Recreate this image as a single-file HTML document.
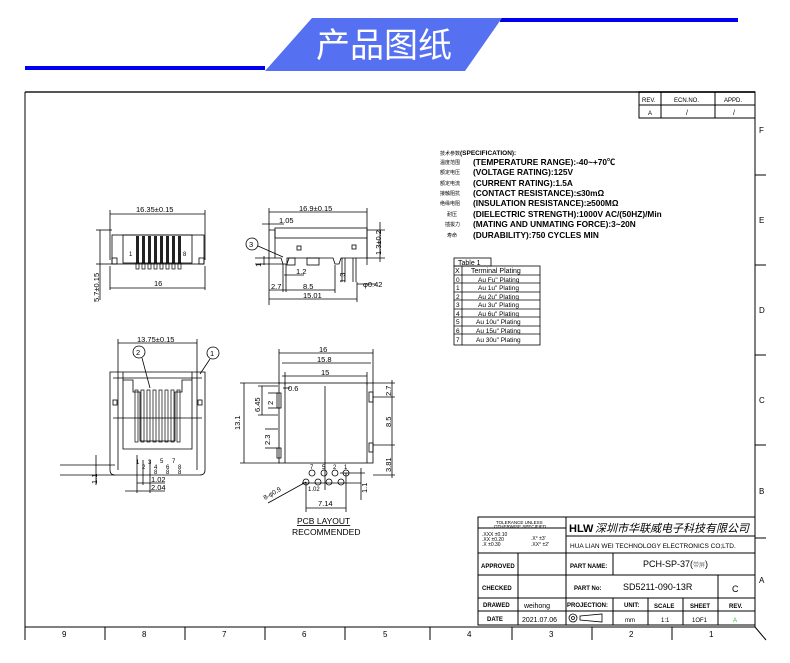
<!DOCTYPE html>
<html><head><meta charset="utf-8">
<style>
html,body{margin:0;padding:0;background:#fff;}
svg{display:block;}
text{font-family:"Liberation Sans","Noto Sans CJK SC",sans-serif;fill:#000;}
</style></head><body>
<svg width="790" height="663" viewBox="0 0 790 663" xmlns="http://www.w3.org/2000/svg">
<rect x="25" y="66" width="240" height="4" fill="#0000ee"/>
<rect x="500" y="18" width="238" height="4" fill="#0000ee"/>
<polygon points="312,18 502,18 465,71 265,71" fill="#5570f0"/>
<text x="316" y="57" font-size="34" fill="#fff" style="fill:#fff" font-family="Noto Sans CJK SC,sans-serif">产品图纸</text>

<g stroke="#000" fill="none" stroke-width="1">
<line x1="25" y1="92" x2="755" y2="92" stroke-width="2" stroke="#555"/>
<line x1="25" y1="92" x2="25" y2="640"/>
<line x1="755" y1="92" x2="755" y2="627"/>
<line x1="25" y1="627" x2="755" y2="627"/>
<line x1="755" y1="627" x2="766" y2="640"/>
<line x1="105" y1="627" x2="105" y2="640"/><line x1="185" y1="627" x2="185" y2="640"/>
<line x1="265" y1="627" x2="265" y2="640"/><line x1="345" y1="627" x2="345" y2="640"/>
<line x1="430" y1="627" x2="430" y2="640"/><line x1="512" y1="627" x2="512" y2="640"/>
<line x1="592" y1="627" x2="592" y2="640"/><line x1="672" y1="627" x2="672" y2="640"/>
<line x1="755" y1="175" x2="766" y2="175"/><line x1="755" y1="265" x2="766" y2="265"/>
<line x1="755" y1="355" x2="766" y2="355"/><line x1="755" y1="445" x2="766" y2="445"/>
<line x1="755" y1="538" x2="766" y2="538"/>
<rect x="639" y="92" width="116" height="26"/>
<line x1="639" y1="105" x2="755" y2="105"/>
<line x1="661" y1="92" x2="661" y2="118"/><line x1="715" y1="92" x2="715" y2="118"/>
<rect x="478" y="517" width="277" height="108"/>
<line x1="566" y1="517" x2="566" y2="625"/>
<line x1="478" y1="553" x2="755" y2="553"/>
<line x1="566" y1="536" x2="755" y2="536"/>
<line x1="478" y1="575" x2="755" y2="575"/>
<line x1="478" y1="598" x2="755" y2="598"/>
<line x1="478" y1="611" x2="755" y2="611"/>
<line x1="518" y1="553" x2="518" y2="625"/>
<line x1="613" y1="553" x2="613" y2="575"/>
<line x1="613" y1="598" x2="613" y2="625"/>
<line x1="648" y1="598" x2="648" y2="625"/><line x1="683" y1="598" x2="683" y2="625"/>
<line x1="718" y1="575" x2="718" y2="625"/>
<line x1="478" y1="528" x2="566" y2="528"/>
</g>
<g font-size="7">
<text x="642" y="102" font-size="6">REV.</text><text x="674" y="102" font-size="6">ECN.NO.</text><text x="724" y="102" font-size="6">APPD.</text>
<text x="648" y="115" font-size="6">A</text><text x="686" y="115">/</text><text x="733" y="115">/</text>
<text x="759" y="133" font-size="8">F</text><text x="759" y="223" font-size="8">E</text><text x="759" y="313" font-size="8">D</text>
<text x="759" y="403" font-size="8">C</text><text x="759" y="494" font-size="8">B</text><text x="759" y="583" font-size="8">A</text>
<text x="62" y="637" font-size="8">9</text><text x="142" y="637" font-size="8">8</text><text x="222" y="637" font-size="8">7</text>
<text x="302" y="637" font-size="8">6</text><text x="383" y="637" font-size="8">5</text><text x="467" y="637" font-size="8">4</text>
<text x="549" y="637" font-size="8">3</text><text x="629" y="637" font-size="8">2</text><text x="709" y="637" font-size="8">1</text>
<text x="496" y="524" font-size="4.5">TOLERANCE UNLESS</text><text x="494" y="528" font-size="4.5">OTHERWISE SPECIFIED</text>
<text x="482" y="536" font-size="5">.XXX ±0.10</text><text x="482" y="541" font-size="5">.XX  ±0.20</text><text x="482" y="546" font-size="5">.X   ±0.30</text>
<text x="531" y="540" font-size="5">.X°  ±3'</text><text x="531" y="546" font-size="5">.XX° ±2'</text>
<text x="569" y="532" font-size="11" font-weight="bold" fill="#223">HLW</text>
<text x="595" y="532" font-size="11" font-family="Noto Serif CJK SC,serif" style="font-style:italic">深圳市华联威电子科技有限公司</text>
<text x="570" y="548" font-size="6.5">HUA LIAN WEI TECHNOLOGY ELECTRONICS CO;LTD.</text>
<text x="481" y="568" font-size="6" font-weight="bold">APPROVED</text>
<text x="570" y="568" font-size="6" font-weight="bold">PART NAME:</text>
<text x="643" y="567" font-size="9">PCH-SP-37(<tspan font-size="6" fill="#777">带屏</tspan>)</text>
<text x="482" y="590" font-size="6" font-weight="bold">CHECKED</text>
<text x="574" y="590" font-size="6" font-weight="bold">PART No:</text>
<text x="623" y="590" font-size="9">SD5211-090-13R</text>
<text x="732" y="592" font-size="9">C</text>
<text x="483" y="607" font-size="6" font-weight="bold">DRAWED</text>
<text x="524" y="608" font-size="7">weihong</text>
<text x="567" y="607" font-size="6" font-weight="bold">PROJECTION:</text>
<text x="624" y="607" font-size="6" font-weight="bold">UNIT:</text>
<text x="654" y="608" font-size="6" font-weight="bold">SCALE</text>
<text x="690" y="608" font-size="6" font-weight="bold">SHEET</text>
<text x="729" y="608" font-size="6" font-weight="bold">REV.</text>
<text x="487" y="621" font-size="6" font-weight="bold">DATE</text>
<text x="522" y="622" font-size="7">2021.07.06</text>
<text x="625" y="622" font-size="6">mm</text><text x="661" y="622" font-size="6">1:1</text><text x="692" y="622" font-size="6">1OF1</text>
<text x="733" y="622" font-size="6" style="fill:#2c2">A</text>
</g>
<g stroke="#000" fill="none" stroke-width="0.8">
<circle cx="573" cy="618" r="4"/><circle cx="573" cy="618" r="1.5"/><polygon points="580,616 602,614 602,622 580,620"/>
</g>

<g font-size="8.3" font-weight="bold">
<text x="440" y="155" font-size="6.5"><tspan font-size="5" font-weight="normal">技术参数</tspan>(SPECIFICATION):</text>
<g font-size="5" font-weight="normal"><text x="440" y="164">温度范围</text><text x="440" y="174">额定电压</text><text x="440" y="185">额定电流</text><text x="440" y="195">接触阻抗</text><text x="440" y="205">绝缘电阻</text><text x="447" y="216">耐压</text><text x="445" y="226">插拔力</text><text x="447" y="237">寿命</text></g>
<text x="473" y="165">(TEMPERATURE RANGE):-40~+70℃</text>
<text x="473" y="175">(VOLTAGE RATING):125V</text>
<text x="473" y="186">(CURRENT RATING):1.5A</text>
<text x="473" y="196">(CONTACT RESISTANCE):≤30mΩ</text>
<text x="473" y="206">(INSULATION RESISTANCE):≥500MΩ</text>
<text x="473" y="217">(DIELECTRIC STRENGTH):1000V AC/(50HZ)/Min</text>
<text x="473" y="227">(MATING AND UNMATING FORCE):3~20N</text>
<text x="473" y="238">(DURABILITY):750 CYCLES MIN</text>
</g>
<g stroke="#000" fill="none" stroke-width="0.8">
<rect x="454" y="258" width="37" height="8"/>
<rect x="454" y="266" width="86" height="79"/>
<line x1="462" y1="266" x2="462" y2="345"/>
<line x1="454" y1="275" x2="540" y2="275"/><line x1="454" y1="283" x2="540" y2="283"/>
<line x1="454" y1="292" x2="540" y2="292"/><line x1="454" y1="300" x2="540" y2="300"/>
<line x1="454" y1="309" x2="540" y2="309"/><line x1="454" y1="317" x2="540" y2="317"/>
<line x1="454" y1="326" x2="540" y2="326"/><line x1="454" y1="334" x2="540" y2="334"/>
</g>
<g font-size="7">
<text x="458" y="265">Table 1</text>
<text x="455" y="273">X</text><text x="471" y="273">Terminal Plating</text>
<g font-size="6.5"><text x="456" y="282">0</text><text x="456" y="290">1</text><text x="456" y="299">2</text><text x="456" y="307">3</text><text x="456" y="316">4</text><text x="456" y="324">5</text><text x="456" y="333">6</text><text x="456" y="342">7</text>
<text x="478" y="282">Au Fu" Plating</text><text x="478" y="290">Au 1u" Plating</text><text x="478" y="299">Au 2u" Plating</text><text x="478" y="307">Au 3u" Plating</text><text x="478" y="316">Au 6u" Plating</text><text x="476" y="324">Au 10u" Plating</text><text x="476" y="333">Au 15u" Plating</text><text x="476" y="342">Au 30u" Plating</text></g>
</g>

<g stroke="#000" fill="none" stroke-width="0.8">
<line x1="110" y1="214" x2="205" y2="214"/><line x1="110" y1="210" x2="110" y2="260"/><line x1="205" y1="210" x2="205" y2="260"/>
<rect x="112" y="235" width="92" height="29"/>
<rect x="123" y="235" width="69" height="28"/>
<rect x="112" y="258" width="5" height="6"/><rect x="199" y="258" width="5" height="6"/>
<line x1="110" y1="288" x2="205" y2="288"/><line x1="110" y1="266" x2="110" y2="290"/><line x1="205" y1="266" x2="205" y2="290"/>
<line x1="100" y1="230" x2="100" y2="300"/><line x1="96" y1="230" x2="112" y2="230"/><line x1="96" y1="264" x2="112" y2="264"/>
</g>
<g fill="#222">
<rect x="136" y="236" width="3" height="27"/><rect x="142" y="236" width="3" height="27"/><rect x="148" y="236" width="3" height="27"/><rect x="154" y="236" width="3" height="27"/>
<rect x="160" y="236" width="3" height="27"/><rect x="166" y="236" width="3" height="27"/><rect x="172" y="236" width="3" height="27"/><rect x="178" y="236" width="3" height="27"/>
</g>
<g stroke="#000" fill="none" stroke-width="0.7">
<rect x="136" y="263" width="3" height="6"/><rect x="142" y="263" width="3" height="6"/><rect x="148" y="263" width="3" height="6"/><rect x="154" y="263" width="3" height="6"/>
<rect x="160" y="263" width="3" height="6"/><rect x="166" y="263" width="3" height="6"/><rect x="172" y="263" width="3" height="6"/><rect x="178" y="263" width="3" height="6"/>
</g>
<g font-size="7.5">
<text x="136" y="212">16.35±0.15</text><text x="129" y="256" font-size="6">1</text><text x="183" y="256" font-size="6">8</text>
<text x="154" y="286">16</text>
<text x="99" y="302" transform="rotate(-90 99 302)">5.7±0.15</text>
</g>

<g stroke="#000" fill="none" stroke-width="0.8">
<line x1="269" y1="212" x2="367" y2="212"/><line x1="269" y1="208" x2="269" y2="305"/><line x1="367" y1="208" x2="367" y2="265"/>
<line x1="262" y1="224" x2="284" y2="224"/>
<rect x="275" y="228" width="92" height="10"/>
<path d="M269 230 L275 230 L275 258 L281 258 L283 264 L287 264 L289 258 L333 258 L335 264 L339 264 L341 258 L367 258 L367 238"/>
<rect x="297" y="246" width="4" height="4"/><rect x="352" y="245" width="4" height="4"/>
<rect x="287" y="258" width="8" height="7"/><rect x="307" y="258" width="12" height="7"/>
<line x1="342" y1="258" x2="342" y2="282"/><line x1="345" y1="258" x2="345" y2="282"/><line x1="353" y1="258" x2="353" y2="282"/><line x1="356" y1="258" x2="356" y2="282"/>
<line x1="283" y1="264" x2="283" y2="292"/><line x1="286" y1="264" x2="286" y2="292"/>
<line x1="284" y1="275" x2="304" y2="275"/>
<line x1="269" y1="290" x2="335" y2="290"/><line x1="335" y1="265" x2="335" y2="293"/>
<line x1="269" y1="299" x2="357" y2="299"/><line x1="357" y1="282" x2="357" y2="302"/>
<line x1="264" y1="256" x2="264" y2="265"/><line x1="255" y1="258" x2="275" y2="258"/><line x1="255" y1="264" x2="283" y2="264"/>
<line x1="367" y1="258" x2="385" y2="258"/><line x1="367" y1="230" x2="385" y2="230"/><line x1="380" y1="222" x2="380" y2="262"/>
<line x1="357" y1="284" x2="376" y2="284"/>
<circle cx="252" cy="244" r="6"/><line x1="258" y1="246" x2="283" y2="257"/>
</g>
<g font-size="7.5">
<text x="299" y="211">16.9±0.15</text><text x="279" y="223">1.05</text>
<text x="249" y="247">3</text>
<text x="296" y="274">1.2</text><text x="271" y="289">2.7</text><text x="303" y="289">8.5</text><text x="303" y="298">15.01</text>
<text x="261" y="267" transform="rotate(-90 261 267)">1</text>
<text x="345" y="283" transform="rotate(-90 345 283)">1.3</text>
<text x="381" y="255" transform="rotate(-90 381 255)">1.3±0.2</text>
<text x="363" y="287">φ0.42</text>
</g>

<g stroke="#000" fill="none" stroke-width="0.8">
<line x1="118" y1="343" x2="197" y2="343"/><line x1="118" y1="339" x2="118" y2="372"/><line x1="197" y1="339" x2="197" y2="372"/>
<path d="M110 372 L205 372 L205 470 Q205 475 200 475 L115 475 Q110 475 110 470 Z"/>
<path d="M113 378 L202 378"/>
<line x1="118" y1="372" x2="118" y2="470"/><line x1="197" y1="372" x2="197" y2="470"/>
<path d="M123 372 L123 449 L192 449 L192 372"/>
<path d="M123 380 L133 380 L133 392 L140 392 L140 441 L175 441 L175 392 L182 392 L182 380 L192 380"/>
<rect x="113" y="400" width="4" height="5"/><rect x="198" y="400" width="4" height="5"/>
<line x1="113" y1="418" x2="202" y2="418"/>
<circle cx="139" cy="352" r="6"/><line x1="142" y1="358" x2="150" y2="388"/>
<circle cx="213" cy="353" r="6"/><line x1="210" y1="359" x2="200" y2="374"/>
<line x1="60" y1="465" x2="115" y2="465"/><line x1="60" y1="475" x2="115" y2="475"/><line x1="96" y1="455" x2="96" y2="485"/>
<line x1="137" y1="455" x2="137" y2="493"/><line x1="143" y1="460" x2="143" y2="485"/><line x1="150" y1="460" x2="150" y2="493"/>
<line x1="137" y1="483" x2="165" y2="483"/><line x1="125" y1="491" x2="165" y2="491"/>
</g>
<g stroke="#000" fill="none" stroke-width="0.7">
<rect x="135" y="390" width="3" height="52"/><rect x="141" y="390" width="3" height="52"/><rect x="147" y="390" width="3" height="52"/><rect x="153" y="390" width="3" height="52"/>
<rect x="159" y="390" width="3" height="52"/><rect x="165" y="390" width="3" height="52"/><rect x="171" y="390" width="3" height="52"/><rect x="177" y="390" width="3" height="52"/>
</g>
<g font-size="7.5">
<text x="137" y="342">13.75±0.15</text><text x="136" y="355">2</text><text x="210" y="356">1</text>
<g font-size="6"><text x="136" y="464">1</text><text x="142" y="469">2</text><text x="148" y="464">3</text><text x="154" y="469">4</text><text x="160" y="463">5</text><text x="166" y="469">6</text><text x="172" y="463">7</text><text x="178" y="469">8</text>
<text x="154" y="474">8</text><text x="166" y="474">8</text><text x="178" y="474">8</text></g>
<text x="151" y="482">1.02</text><text x="151" y="490">2.04</text>
<text x="97" y="484" transform="rotate(-90 97 484)">1.1</text>
</g>

<g stroke="#000" fill="none" stroke-width="0.8">
<line x1="279" y1="353" x2="373" y2="353"/><line x1="279" y1="349" x2="279" y2="383"/><line x1="373" y1="349" x2="373" y2="383"/>
<line x1="282" y1="363" x2="371" y2="363"/>
<line x1="282" y1="376" x2="367" y2="376"/><line x1="285" y1="372" x2="285" y2="385"/><line x1="367" y1="372" x2="367" y2="385"/>
<rect x="279" y="383" width="94" height="80"/>
<line x1="285" y1="383" x2="285" y2="463"/><line x1="367" y1="383" x2="367" y2="463"/>
<line x1="325" y1="386" x2="325" y2="490"/>
<rect x="277" y="393" width="4" height="15"/><rect x="369" y="392" width="4" height="10"/>
<rect x="277" y="448" width="4" height="10"/><rect x="369" y="443" width="4" height="9"/>
<line x1="240" y1="383" x2="280" y2="383"/><line x1="240" y1="463" x2="280" y2="463"/><line x1="244" y1="383" x2="244" y2="463"/>
<line x1="258" y1="386" x2="278" y2="386"/><line x1="258" y1="415" x2="278" y2="415"/><line x1="262" y1="386" x2="262" y2="415"/>
<line x1="268" y1="393" x2="278" y2="393"/><line x1="268" y1="408" x2="278" y2="408"/>
<line x1="265" y1="429" x2="278" y2="429"/><line x1="265" y1="448" x2="278" y2="448"/>
<line x1="283" y1="388" x2="290" y2="388"/>
<line x1="373" y1="383" x2="395" y2="383"/><line x1="373" y1="397" x2="395" y2="397"/><line x1="373" y1="445" x2="395" y2="445"/><line x1="373" y1="475" x2="395" y2="475"/>
<line x1="392" y1="380" x2="392" y2="478"/>
</g>
<g stroke="#000" fill="none" stroke-width="0.8">
<circle cx="312" cy="473" r="3"/><circle cx="324" cy="473" r="3"/><circle cx="335" cy="473" r="3"/><circle cx="346" cy="473" r="3"/>
<circle cx="306" cy="482" r="3"/><circle cx="318" cy="482" r="3"/><circle cx="329" cy="482" r="3"/><circle cx="341" cy="482" r="3"/>
<line x1="268" y1="503" x2="306" y2="482"/>
<line x1="306" y1="482" x2="306" y2="512"/><line x1="346" y1="473" x2="346" y2="512"/><line x1="306" y1="508" x2="346" y2="508"/>
<line x1="302" y1="483" x2="361" y2="483"/><line x1="340" y1="473" x2="365" y2="473"/><line x1="361" y1="468" x2="361" y2="500"/>
</g>
<g font-size="7.5">
<text x="319" y="352">16</text><text x="317" y="362">15.8</text><text x="321" y="375">15</text>
<text x="288" y="391">0.6</text>
<text x="240" y="430" transform="rotate(-90 240 430)">13.1</text>
<text x="260" y="412" transform="rotate(-90 260 412)">6.45</text>
<text x="273" y="405" transform="rotate(-90 273 405)">2</text>
<text x="270" y="445" transform="rotate(-90 270 445)">2.3</text>
<text x="391" y="396" transform="rotate(-90 391 396)">2.7</text>
<text x="391" y="427" transform="rotate(-90 391 427)">8.5</text>
<text x="391" y="472" transform="rotate(-90 391 472)">3.81</text>
<text x="367" y="493" transform="rotate(-90 367 493)">1.1</text>
<g font-size="6"><text x="310" y="469">7</text><text x="322" y="469">5</text><text x="333" y="469">2</text><text x="344" y="469">1</text></g>
<text x="308" y="491" font-size="6">1.02</text>
<text x="318" y="506">7.14</text>
<text x="265" y="500" font-size="6.5" transform="rotate(-30 265 500)">8-φ0.9</text>
<text x="297" y="524" font-size="8.5" text-decoration="underline">PCB LAYOUT</text>
<text x="292" y="535" font-size="8.5">RECOMMENDED</text>
</g>
</svg>
</body></html>
